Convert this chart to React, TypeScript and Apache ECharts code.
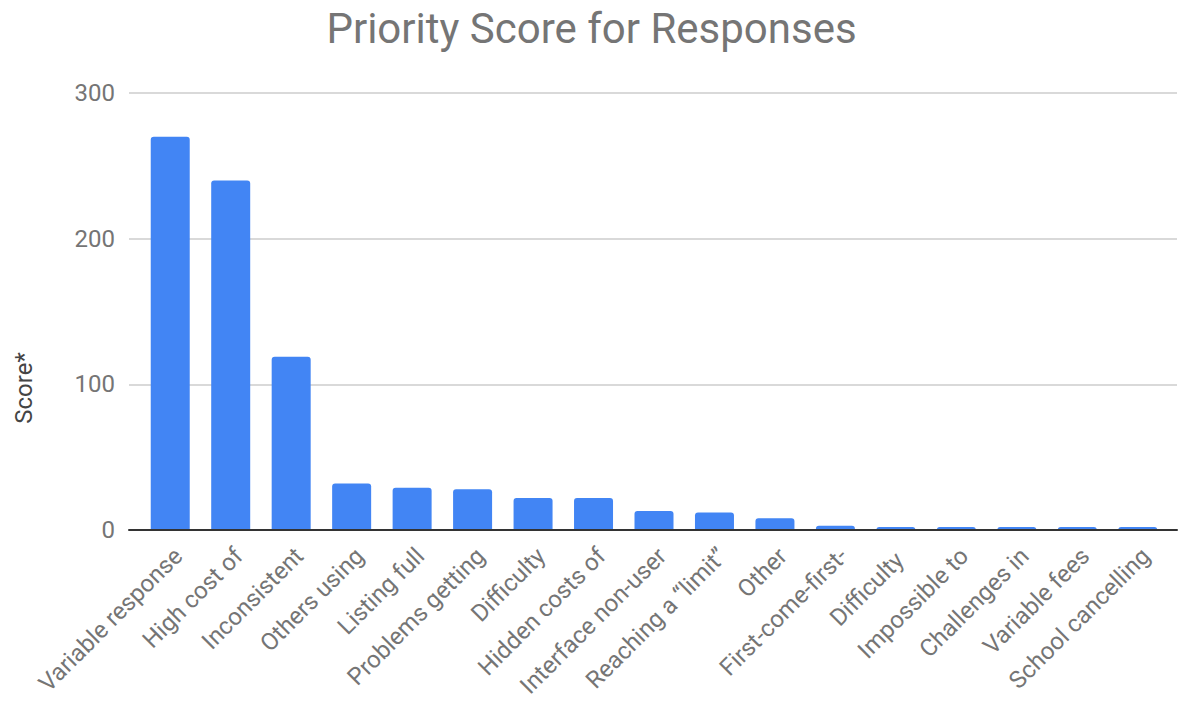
import React, { useEffect, useRef } from "react";
import * as echarts from "echarts";

const categories = [
  "Variable response",
  "High cost of",
  "Inconsistent",
  "Others using",
  "Listing full",
  "Problems getting",
  "Difficulty",
  "Hidden costs of",
  "Interface non-user",
  "Reaching a \u201climit\u201d",
  "Other",
  "First-come-first-",
  "Difficulty ",
  "Impossible to",
  "Challenges in",
  "Variable fees",
  "School cancelling",
];
const scores = [270, 240, 119, 32, 29, 28, 22, 22, 13, 12, 8, 3, 2, 2, 2, 2, 2];
const yTicks = [0, 100, 200, 300];

export default function App() {
  const ref = useRef<HTMLDivElement>(null);
  useEffect(() => {
    if (!ref.current) return;
    const chart = echarts.init(ref.current, null, { renderer: "svg" });
    const font = "Roboto, sans-serif";
    chart.setOption({
      animation: false,
      backgroundColor: "#ffffff",
      title: {
        text: "Priority Score for Responses",
        left: "center",
        top: 2,
        textStyle: { fontFamily: font, fontSize: 42, fontWeight: "normal", color: "#757575" },
      },
      graphic: [
        {
          type: "text",
          x: 24,
          y: 388,
          rotation: Math.PI / 2,
          style: {
            text: "Score*",
            fontFamily: font,
            fontSize: 24,
            fill: "#444444",
            align: "center",
            verticalAlign: "middle",
          },
        },
      ],
      grid: [
        { left: 129, right: 6, top: 93, bottom: 174 },
        { left: 140, right: 15, top: 93, bottom: 174 },
        { left: 148, right: 7, top: 93, bottom: 174 },
      ],
      xAxis: [
        {
          type: "value",
          gridIndex: 0,
          min: 0,
          max: 1,
          z: 10,
          axisLine: { show: true, lineStyle: { color: "#333333", width: 2 } },
          axisTick: { show: false },
          axisLabel: { show: false },
          splitLine: { show: false },
        },
        {
          type: "category",
          gridIndex: 1,
          data: categories,
          axisLine: { show: false },
          axisTick: { show: false },
          axisLabel: { show: false },
        },
        {
          type: "category",
          gridIndex: 2,
          data: categories,
          axisLine: { show: false },
          axisTick: { show: false },
          axisLabel: {
            rotate: 45,
            interval: 0,
            margin: 22,
            fontFamily: font,
            fontSize: 24,
            color: "#757575",
          },
        },
      ],
      yAxis: [
        {
          type: "value",
          gridIndex: 0,
          min: yTicks[0],
          max: yTicks[yTicks.length - 1],
          interval: 100,
          axisLine: { show: false },
          axisTick: { show: false },
          axisLabel: { fontFamily: font, fontSize: 24, color: "#757575", margin: 14 },
          splitLine: { lineStyle: { color: "#cccccc", width: 1.5 } },
        },
        {
          type: "value",
          gridIndex: 1,
          min: yTicks[0],
          max: yTicks[yTicks.length - 1],
          show: false,
        },
        {
          type: "value",
          gridIndex: 2,
          min: yTicks[0],
          max: yTicks[yTicks.length - 1],
          show: false,
        },
      ],
      series: [
        {
          type: "bar",
          xAxisIndex: 1,
          yAxisIndex: 1,
          data: scores,
          barWidth: 39,
          itemStyle: { color: "#4285F4", borderRadius: [3, 3, 0, 0] },
        },
      ],
    });
    return () => chart.dispose();
  }, []);
  return (
    <div
      ref={ref}
      style={{ position: "absolute", left: 0, top: 0, width: 1183, height: 704 }}
    />
  );
}
